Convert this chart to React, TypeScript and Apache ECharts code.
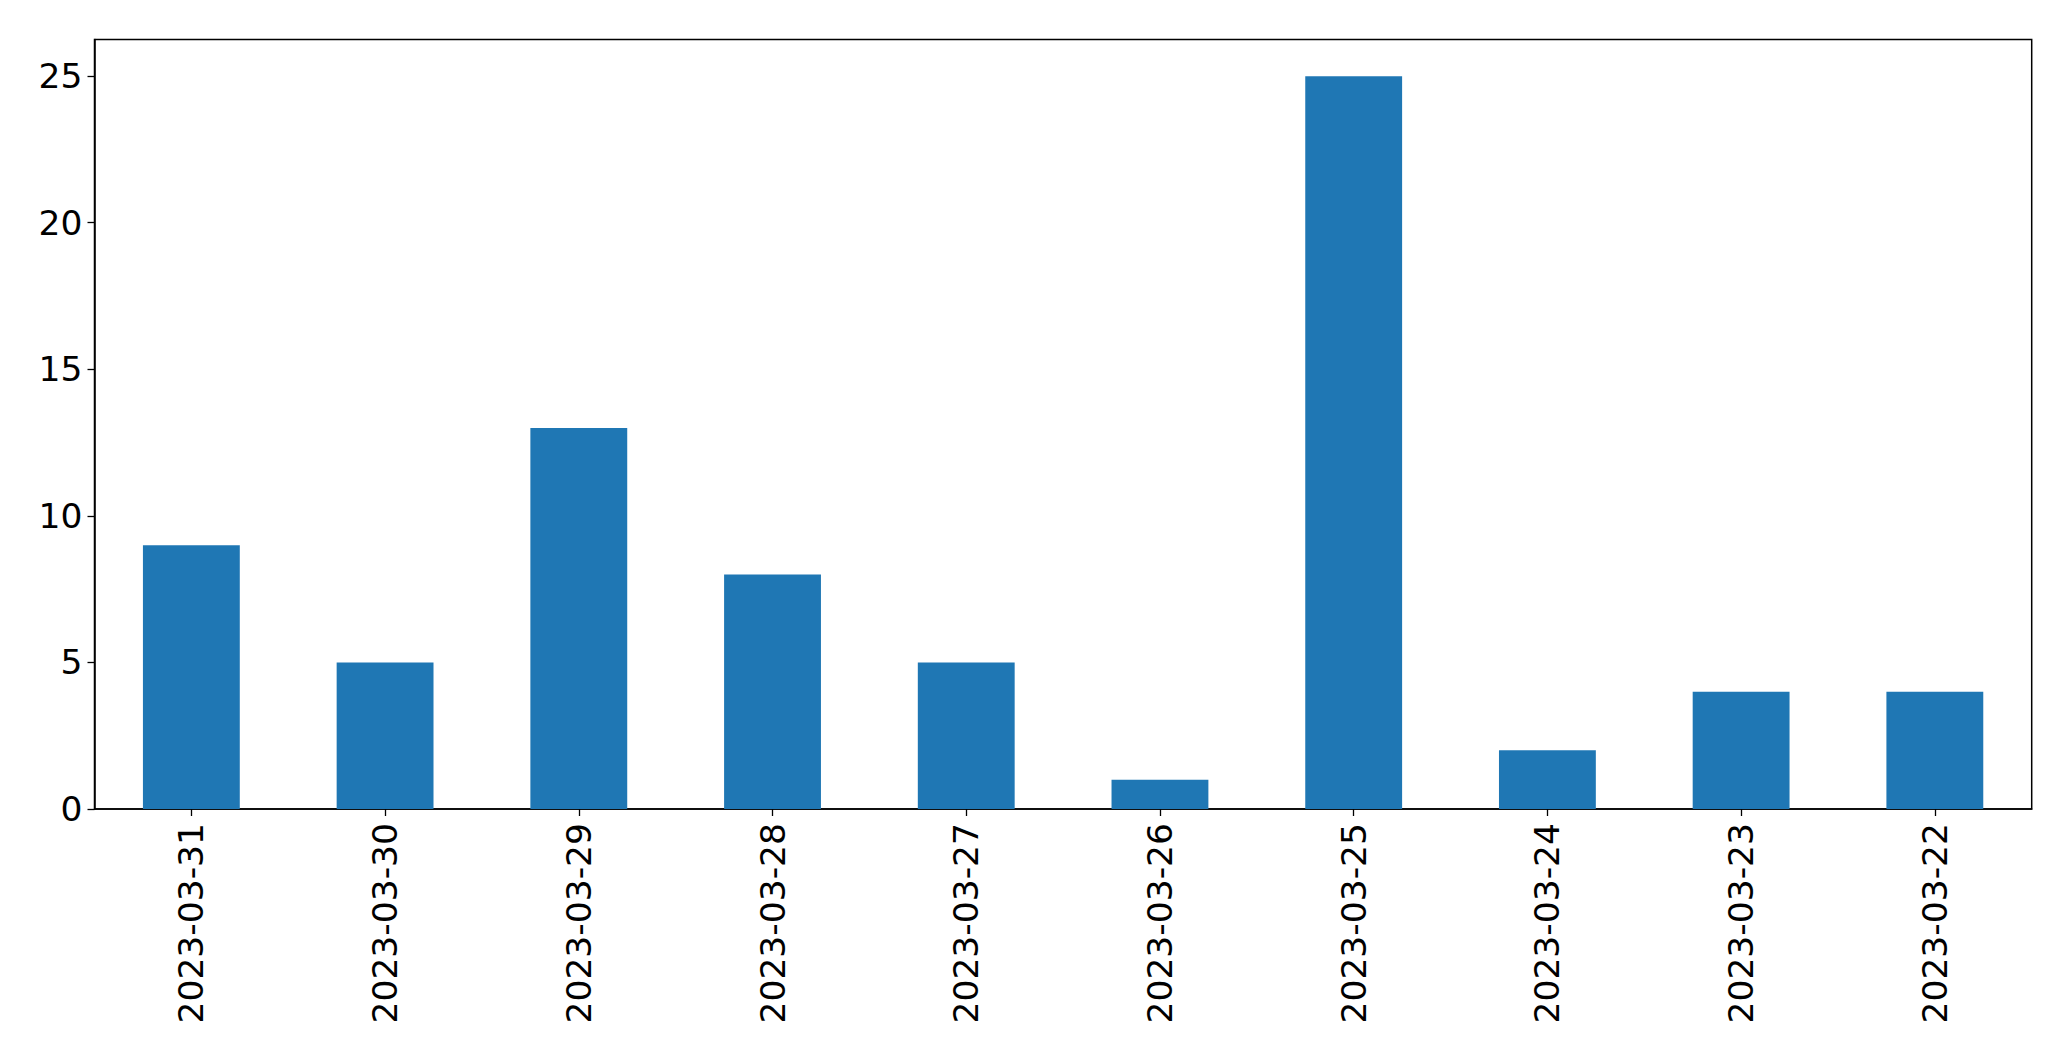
import React, { useEffect, useRef } from "react";
import * as echarts from "echarts";

const categories = [
  "2023-03-31", "2023-03-30", "2023-03-29", "2023-03-28", "2023-03-27",
  "2023-03-26", "2023-03-25", "2023-03-24", "2023-03-23", "2023-03-22",
];
const values = [9, 5, 13, 8, 5, 1, 25, 2, 4, 4];
const yTicks = [0, 5, 10, 15, 20, 25];

export default function App() {
  const ref = useRef<HTMLDivElement>(null);
  useEffect(() => {
    if (!ref.current) return;
    const chart = echarts.init(ref.current, undefined, { renderer: "svg" });
    chart.setOption({
      animation: false,
      backgroundColor: "#ffffff",
      grid: {
        left: 94.5,
        top: 39.5,
        right: 39.3,
        bottom: 252,
        show: true,
        borderColor: "#000000",
        borderWidth: 1.5,
        backgroundColor: "transparent",
      },
      xAxis: {
        type: "category",
        data: categories,
        axisLine: { show: true, lineStyle: { color: "#000", width: 1.5 } },
        axisTick: { show: true, alignWithLabel: true, length: 7, lineStyle: { color: "#000", width: 1.3 } },
        axisLabel: {
          rotate: 90,
          interval: 0,
          margin: 14,
          fontFamily: "DejaVu Sans",
          fontSize: 34.5,
          color: "#000",
        },
        splitLine: { show: false },
      },
      yAxis: {
        type: "value",
        min: 0,
        max: 26.25,
        interval: 5,
        axisLine: { show: true, lineStyle: { color: "#000", width: 1.5 } },
        axisTick: { show: true, length: 7, customValues: yTicks, lineStyle: { color: "#000", width: 1.3 } },
        axisLabel: {
          customValues: yTicks,
          margin: 12,
          fontFamily: "DejaVu Sans",
          fontSize: 34.5,
          color: "#000",
        },
        splitLine: { show: false },
      },
      series: [
        {
          type: "bar",
          data: values,
          barWidth: "50%",
          itemStyle: { color: "#1f77b4" },
        },
      ],
    });
    return () => chart.dispose();
  }, []);
  return (
    <div
      ref={ref}
      style={{ position: "fixed", left: 0, top: 0, width: 2071, height: 1061, background: "#fff" }}
    />
  );
}
